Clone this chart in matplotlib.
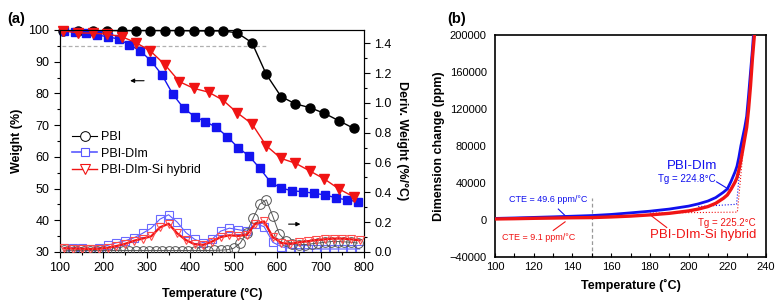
import matplotlib
matplotlib.use("Agg")
import matplotlib.pyplot as plt
from matplotlib.lines import Line2D
from matplotlib.ticker import MultipleLocator

plt.rcParams['font.family'] = ['Liberation Sans', 'DejaVu Sans']

# ---- panel (a): TGA weight curves ----
t_pbi = [108, 141, 175, 208, 242, 275, 308, 342, 375, 408, 442,
         475, 508, 542, 575, 609, 642, 676, 709, 742, 776]
w_pbi = [99.8, 99.8, 99.8, 99.8, 99.8, 99.8, 99.8, 99.8, 99.8, 99.7, 99.7,
         99.7, 99.1, 96.0, 86.0, 79.0, 76.7, 75.5, 73.7, 71.4, 69.0]

t_dim = [110, 135, 160, 185, 210, 235, 260, 285, 310, 335, 360, 385, 410, 435,
         460, 485, 510, 535, 560, 585, 610, 635, 660, 685, 710, 735, 760, 785]
w_dim = [99.7, 99.4, 99.0, 98.4, 97.9, 97.1, 95.3, 93.4, 90.2, 85.8, 79.7, 75.3, 72.7, 71.1,
         69.3, 66.4, 62.9, 60.3, 56.4, 52.0, 50.1, 49.3, 49.0, 48.5, 48.0, 47.1, 46.4, 45.9]

t_hyb = t_pbi
w_hyb = [99.7, 99.1, 99.0, 98.7, 97.9, 96.0, 93.4, 89.0, 83.7, 81.6, 80.4,
         77.9, 73.9, 70.4, 63.5, 59.5, 58.0, 55.5, 53.0, 49.9, 47.4]

# ---- panel (a): derivative curves (right axis) ----
t_dsq = [110, 130, 150, 170, 190, 210, 230, 250, 270, 290, 310, 330, 350, 370, 390, 410, 430, 450,
         470, 490, 510, 530, 550, 570, 590, 610, 630, 650, 670, 690, 710, 730, 750, 770, 790]
d_dim = [0.030, 0.028, 0.025, 0.022, 0.028, 0.045, 0.062, 0.075, 0.095, 0.125, 0.160, 0.220,
         0.250, 0.200, 0.130, 0.085, 0.062, 0.085, 0.140, 0.160, 0.150, 0.140, 0.190, 0.170,
         0.065, 0.035, 0.025, 0.022, 0.022, 0.020, 0.020, 0.020, 0.020, 0.020, 0.020]
d_hyb = [0.025, 0.023, 0.022, 0.020, 0.022, 0.028, 0.040, 0.055, 0.075, 0.090, 0.105, 0.165,
         0.190, 0.125, 0.080, 0.052, 0.048, 0.070, 0.100, 0.112, 0.108, 0.115, 0.190, 0.205,
         0.100, 0.060, 0.055, 0.065, 0.072, 0.080, 0.085, 0.090, 0.090, 0.085, 0.078]

t_dci = [110, 125, 140, 155, 170, 185, 200, 215, 230, 245, 260, 275, 290, 305, 320, 335,
         350, 365, 380, 395, 410, 425, 440, 455, 470, 485, 500, 515, 530, 545, 560, 575,
         590, 605, 620, 635, 650, 665, 680, 695, 710, 725, 740, 755, 770, 785]
d_pbi = [0.012, 0.011, 0.010, 0.010, 0.010, 0.010, 0.010, 0.010, 0.010, 0.010, 0.010, 0.010,
         0.010, 0.010, 0.010, 0.010, 0.010, 0.010, 0.010, 0.010, 0.010, 0.010, 0.010, 0.011,
         0.012, 0.015, 0.025, 0.060, 0.130, 0.230, 0.320, 0.350, 0.240, 0.120, 0.075, 0.055,
         0.050, 0.050, 0.055, 0.060, 0.065, 0.070, 0.070, 0.068, 0.065, 0.060]

# ---- panel (b): TMA dimension change ----
t_tma_dim = [100, 110, 120, 130, 140, 150, 160, 170, 180, 190, 200, 205, 210, 214, 218,
             220, 222, 224, 225, 226, 227, 228, 229, 230, 231, 232, 233, 233.5]
ppm_dim = [1700, 2200, 2800, 3400, 4100, 4800, 6000, 7700, 9500, 11800, 15000, 17400, 20500,
           24200, 30000, 33500, 42000, 52000, 58100, 68000, 80000, 90000, 100000, 112000,
           135000, 160000, 185000, 200000]
t_tma_hyb = [100, 110, 120, 130, 140, 150, 160, 170, 180, 190, 200, 205, 210, 214, 218,
             220, 222, 224, 225, 226, 227, 228, 229, 230, 231, 232, 233, 234]
ppm_hyb = [1100, 1400, 1800, 2100, 2400, 2600, 3300, 4200, 5500, 7200, 9800, 11800, 14500,
           18000, 23500, 27000, 33500, 41000, 45800, 54000, 64300, 76000, 88000, 100000,
           120000, 145000, 175000, 200000]

# tangent lines used to read Tg
tg_dim_x = [205, 224.8, 227.3]
tg_dim_y = [14500, 17000, 75000]
tg_hyb_x = [180, 225.2, 228.2]
tg_hyb_y = [7500, 8500, 75000]

BLUE = '#1414f0'
RED = '#f01414'

fig = plt.figure(figsize=(7.83, 3.05), dpi=100)

# ================= (a) =================
ax = fig.add_axes([0.0766, 0.1738, 0.3883, 0.7279])
ax2 = ax.twinx()

ax.plot(t_pbi, w_pbi, '-o', color='black', lw=1.0, ms=6.5, zorder=3, clip_on=False)
ax.plot(t_dim, w_dim, '-s', color=BLUE, lw=1.0, ms=5.5, zorder=3, clip_on=False)
ax.plot(t_hyb, w_hyb, '-v', color=RED, lw=1.0, ms=6.5, zorder=4, clip_on=False)
ax.plot([105, 580], [95, 95], color='#b0b0b0', lw=0.9, ls=(0, (3, 2)), zorder=1)

ax.annotate('', xy=(255, 84), xytext=(300, 84),
            arrowprops=dict(arrowstyle='-|>', color='black', lw=0.8, mutation_scale=6))

ax.set_xlim(100, 800)
ax.set_ylim(30, 100)
ax.xaxis.set_major_locator(MultipleLocator(100))
ax.xaxis.set_minor_locator(MultipleLocator(50))
ax.yaxis.set_major_locator(MultipleLocator(10))
ax.yaxis.set_minor_locator(MultipleLocator(5))
ax.tick_params(which='major', direction='out', length=4, width=0.8, labelsize=9)
ax.tick_params(which='minor', direction='out', length=2, width=0.8)
ax.set_xlabel('Temperature (°C)', fontsize=9, fontweight='bold', labelpad=10)
ax.set_ylabel('Weight (%)', fontsize=9, fontweight='bold', labelpad=4)

ax2.plot(t_dsq, d_dim, '-s', color='#5a5aff', mfc='none', mec='#6a6aff', lw=0.8, ms=6,
         mew=0.8, zorder=2)
ax2.plot(t_dci, d_pbi, '-o', color='#555555', mfc='none', mec='#555555', lw=0.7, ms=7,
         mew=0.7, zorder=3)
ax2.plot(t_dsq, d_hyb, '-v', color=RED, mfc='none', mec='#ff4a4a', lw=1.6, ms=6,
         mew=0.8, zorder=4)
ax2.annotate('', xy=(660, 0.187), xytext=(620, 0.187),
             arrowprops=dict(arrowstyle='-|>', color='black', lw=0.8, mutation_scale=6))
ax2.set_ylim(0, 1.49)
ax2.yaxis.set_major_locator(MultipleLocator(0.2))
ax2.yaxis.set_minor_locator(MultipleLocator(0.1))
ax2.yaxis.set_major_formatter(plt.FuncFormatter(lambda v, p: '%.1f' % v))
ax2.tick_params(which='major', direction='out', length=4, width=0.8, labelsize=9)
ax2.tick_params(which='minor', direction='out', length=2, width=0.8)
ax2.set_ylabel('Deriv. Weight (%/°C)', fontsize=9, fontweight='bold', rotation=270,
               labelpad=12)

handles = [
    Line2D([], [], color='black', marker='o', mfc='white', mec='black', lw=0.8, ms=7, mew=0.7),
    Line2D([], [], color='#5a5aff', marker='s', mfc='white', mec='#5a5aff', lw=1.2, ms=6, mew=0.8),
    Line2D([], [], color=RED, marker='v', mfc='white', mec=RED, lw=1.0, ms=6.5, mew=0.8),
]
ax2.legend(handles, ['PBI', 'PBI-DIm', 'PBI-DIm-Si hybrid'], loc='upper left',
           bbox_to_anchor=(0.04, 0.545), frameon=False, fontsize=9, handlelength=2.0,
           handletextpad=0.3, labelspacing=0.37, borderpad=0, borderaxespad=0)

fig.text(0.009, 0.925, '(a)', fontsize=10.5, fontweight='bold')

# ================= (b) =================
bx = fig.add_axes([0.6322, 0.1574, 0.3461, 0.7279])
bx.plot(t_tma_dim, ppm_dim, color='#1010ee', lw=2.0, zorder=3)
bx.plot(t_tma_hyb, ppm_hyb, color=RED, lw=2.4, zorder=4)
bx.plot(tg_dim_x, tg_dim_y, color='#1010ee', lw=0.8, ls=':', zorder=2)
bx.plot(tg_hyb_x, tg_hyb_y, color=RED, lw=0.8, ls=':', zorder=2)
bx.plot([150, 150], [-40000, 24000], color='#999999', lw=0.9, ls=(0, (3, 2)), zorder=1)

bx.text(201.6, 58000, 'PBI-DIm', color='#1010ee', fontsize=9.5, ha='center', va='center')
bx.text(199, 44200, 'Tg = 224.8°C', color='#1010ee', fontsize=7, ha='center', va='center')
bx.plot([214.5, 220.5], [41200, 33500], color='#1010ee', lw=0.8)
bx.text(107.4, 22000, 'CTE = 49.6 ppm/°C', color='#1010ee', fontsize=6.5, ha='left',
        va='center')
bx.plot([132.7, 136.2], [11800, 4800], color='#1010ee', lw=0.8)
bx.plot([136.2, 130.1], [-2000, -11300], color=RED, lw=0.8)
bx.text(103.5, -19000, 'CTE = 9.1 ppm/°C', color=RED, fontsize=6.5, ha='left', va='center')
bx.text(219.7, -3500, 'Tg = 225.2°C', color=RED, fontsize=7, ha='center', va='center')
bx.plot([180, 188.7], [5800, -8100], color=RED, lw=0.8)
bx.text(207.6, -15900, 'PBI-DIm-Si hybrid', color=RED, fontsize=9.5, ha='center',
        va='center')

bx.set_xlim(100, 240)
bx.set_ylim(-40000, 200000)
bx.xaxis.set_major_locator(MultipleLocator(20))
bx.xaxis.set_minor_locator(MultipleLocator(10))
bx.yaxis.set_major_locator(MultipleLocator(40000))
bx.tick_params(axis='x', which='major', direction='in', length=3, width=0.8, labelsize=8)
bx.tick_params(axis='x', which='minor', direction='in', length=3, width=0.8)
bx.tick_params(axis='y', direction='in', length=0, labelsize=8, pad=6)
for s in bx.spines.values():
    s.set_linewidth(1.2)
bx.set_xlabel('Temperature (˚C)', fontsize=9, fontweight='bold', labelpad=5)
bx.set_ylabel('Dimension change (ppm)', fontsize=9, fontweight='bold', labelpad=3)

fig.text(0.571, 0.925, '(b)', fontsize=10.5, fontweight='bold')

fig.savefig('out.png', dpi=100)
